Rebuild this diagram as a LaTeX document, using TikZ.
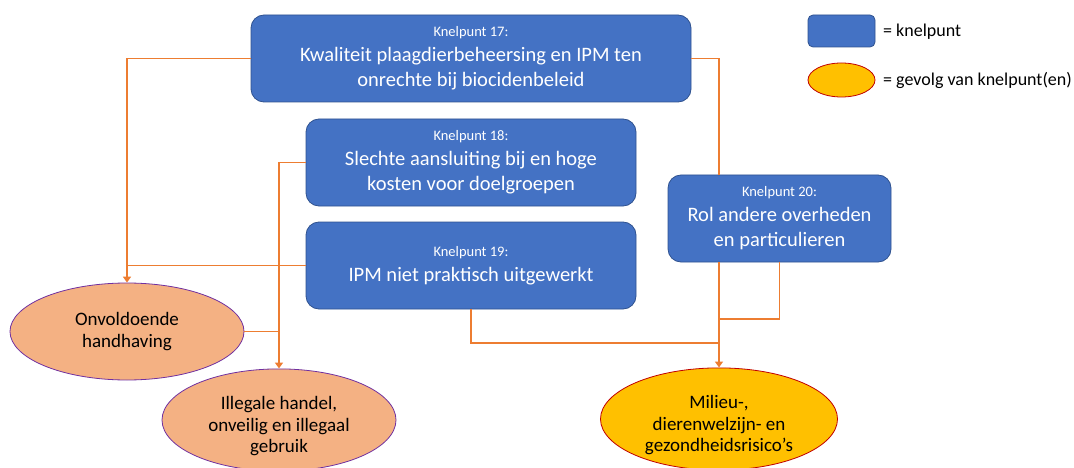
\documentclass[tikz,border=0pt]{standalone}
\usepackage{fontspec}
\setmainfont{Carlito}
\usetikzlibrary{shapes.geometric,arrows.meta,calc}
\definecolor{kblue}{HTML}{4472C4}
\definecolor{kblueedge}{HTML}{2F528F}
\definecolor{korange}{HTML}{ED7D31}
\definecolor{kpeach}{HTML}{F4B183}
\definecolor{kpurple}{HTML}{7030A0}
\definecolor{kyellow}{HTML}{FFC000}
\definecolor{kred}{HTML}{C00000}
\newcommand{\kpsmall}[1]{{\fontsize{14.5}{24}\selectfont #1}}
\newcommand{\lowerstrut}{\rule{0pt}{26pt}}
\tikzset{
  kbox/.style={draw=kblueedge, line width=0.8pt, fill=kblue, rounded corners=13pt, text=white, align=center, inner sep=0pt, font=\fontsize{20.5}{25}\selectfont},
  gevolg/.style={ellipse, draw=kpurple, line width=0.8pt, fill=kpeach, text=black, align=center, inner sep=0pt, font=\fontsize{19}{21.5}\selectfont},
  gevolgy/.style={gevolg, draw=kred, fill=kyellow},
  conn/.style={draw=korange, line width=1.8pt},
  connarrow/.style={conn, -{Triangle[width=8pt,length=6pt]}},
  legtext/.style={anchor=west, inner sep=0pt, font=\fontsize{18}{20}\selectfont}
}
\begin{document}
\begin{tikzpicture}[x=1pt,y=-1pt]
\useasboundingbox (0,0) rectangle (1074,468);
% knelpunten
\node[kbox, minimum width=440pt, minimum height=87pt] (k17) at (471,58.5)
  {\kpsmall{Knelpunt 17:}\\Kwaliteit plaagdierbeheersing en IPM ten\\onrechte bij biocidenbeleid};
\node[kbox, minimum width=330pt, minimum height=87pt] (k18) at (471,162.5)
  {\kpsmall{Knelpunt 18:}\\Slechte aansluiting bij en hoge\\kosten voor doelgroepen};
\node[kbox, minimum width=330pt, minimum height=87pt] (k19) at (471,265.5)
  {\kpsmall{Knelpunt 19:}\\IPM niet praktisch uitgewerkt};
\node[kbox, minimum width=223pt, minimum height=87pt] (k20) at (779.5,218.5)
  {\kpsmall{Knelpunt 20:}\\Rol andere overheden\\en particulieren};
% gevolgen
\node[gevolg, minimum width=234pt, minimum height=97pt] (onv) at (127,331.5)
  {Onvoldoende\\handhaving};
\node[gevolg, minimum width=234pt, minimum height=94pt] (ill) at (279,420)
  {\lowerstrut Illegale handel,\\onveilig en illegaal\\gebruik};
\node[gevolgy, minimum width=237pt, minimum height=92pt] (mil) at (719,419)
  {\lowerstrut Milieu-,\\dierenwelzijn- en\\gezondheidsrisico’s};
% junctions
\coordinate (j1) at (719,319);
\coordinate (j2) at (719,343);
% connectors
\draw[connarrow] (k17.west) -| (onv.north);
\draw[conn] (k19.west) -- (k19.west -| onv.north);
\draw[connarrow] (k18.west) -| (ill.north);
\draw[conn] (onv.east) -- (onv.east -| ill.north);
\draw[conn] (k17.east) -| (k20.north -| mil.north);
\draw[connarrow] (k20.south -| mil.north) -- (mil.north);
\draw[conn] (k20.south) |- (j1);
\draw[conn] (k19.south) |- (j2);
% legend
\node[kbox, rounded corners=5pt, minimum width=67pt, minimum height=32pt] (legk) at (841.5,31) {};
\node[legtext] (legkt) at (883,32) {= knelpunt};
\node[gevolgy, minimum width=67pt, minimum height=34pt] (legg) at (841.5,80) {};
\node[legtext] (leggt) at (883,80) {= gevolg van knelpunt(en)};
\end{tikzpicture}
\end{document}
